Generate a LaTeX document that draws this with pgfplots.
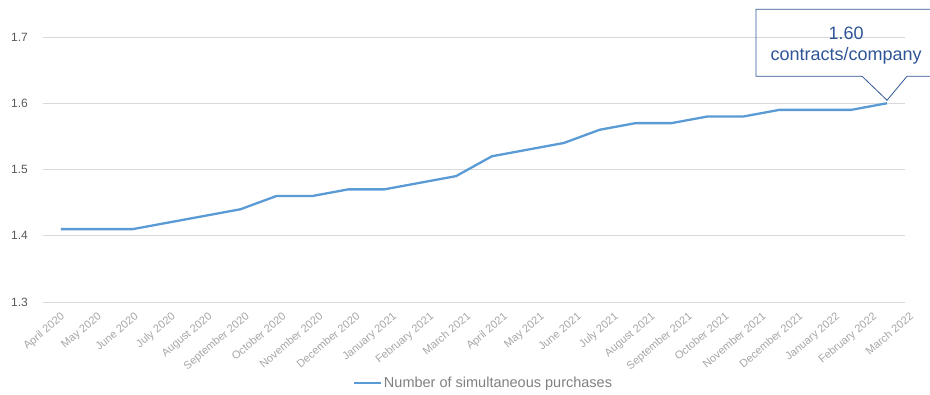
\documentclass[border=0pt]{standalone}
\usepackage{fontspec}
\setmainfont{Liberation Sans}
\usepackage{pgfplots}
\pgfplotsset{compat=1.18}
\definecolor{linec}{HTML}{5B9BD5}
\definecolor{gridc}{HTML}{D9D9D9}
\definecolor{ytickc}{HTML}{595959}
\definecolor{xtickc}{HTML}{A6A6A6}
\definecolor{callc}{HTML}{2F5597}
\definecolor{legc}{HTML}{808080}
\begin{document}
\begin{tikzpicture}
\clip (-43pt,-92pt) rectangle (887pt,302pt);
\begin{axis}[
  at={(0,0)}, anchor=south west,
  scale only axis, width=862pt, height=265pt,
  xmin=-0.5, xmax=23.5, ymin=1.3, ymax=1.7,
  ytick={1.3,1.4,1.5,1.6,1.7},
  yticklabels={1.3,1.4,1.5,1.6,1.7},
  xtick={-0.14,0.8878,1.9156,2.9433,3.9711,4.9989,6.0267,7.0544,8.0822,9.11,10.1378,11.1656,12.1933,13.2211,14.2489,15.2767,16.3044,17.3322,18.36,19.3878,20.4156,21.4433,22.4711,23.4989},
  xticklabels={April 2020,May 2020,June 2020,July 2020,August 2020,September 2020,October 2020,November 2020,December 2020,January 2021,February 2021,March 2021,April 2021,May 2021,June 2021,July 2021,August 2021,September 2021,October 2021,November 2021,December 2021,January 2022,February 2022,March 2022},
  xticklabel style={rotate=40, anchor=north east, font=\fontsize{11}{13}\selectfont, text=xtickc, inner sep=0pt, xshift=-3pt, yshift=-10pt},
  yticklabel style={anchor=east, font=\fontsize{12}{13}\selectfont, text=ytickc, inner sep=0pt, xshift=-15pt},
  /pgf/number format/assume math mode=true,
  axis line style={draw=none},
  major tick length=0pt,
  ymajorgrids, grid style={gridc, line width=0.9pt},
  clip=false,
  legend style={draw=none, fill=none, at={(0.3596,-0.3057)}, anchor=west, inner sep=0pt, font=\fontsize{14.5}{16}\selectfont, text=legc, nodes={inner sep=1.5pt}},
  legend cell align=left,
  legend image code/.code={\draw[#1] (0pt,0pt) -- (27pt,0pt);},
]
\addplot[linec, line width=2.3pt, line join=round] coordinates {
 (0,1.41) (1,1.41) (2,1.41) (3,1.42) (4,1.43) (5,1.44) (6,1.46) (7,1.46)
 (8,1.47) (9,1.47) (10,1.48) (11,1.49) (12,1.52) (13,1.53) (14,1.54) (15,1.56)
 (16,1.57) (17,1.57) (18,1.58) (19,1.58) (20,1.59) (21,1.59) (22,1.59) (23,1.60)
};
\addlegendentry{Number of simultaneous purchases}
\coordinate (tip) at (axis cs:23,1.6);
\end{axis}
\draw[callc, line width=0.8pt] ([yshift=3pt]tip) -- ++(-25pt,24pt) -- ++(-106pt,0pt) -- ++(0pt,67pt) -- ++(180pt,0pt) -- ++(0pt,-67pt) -- ++(-29pt,0pt) -- cycle;
\node[text=callc, font=\fontsize{18}{20}\selectfont, inner sep=0pt] at ([shift={(-41pt,70pt)}]tip) {1.60};
\node[text=callc, font=\fontsize{18}{20}\selectfont, inner sep=0pt] at ([shift={(-41pt,47pt)}]tip) {contracts/company};
\end{tikzpicture}
\end{document}
